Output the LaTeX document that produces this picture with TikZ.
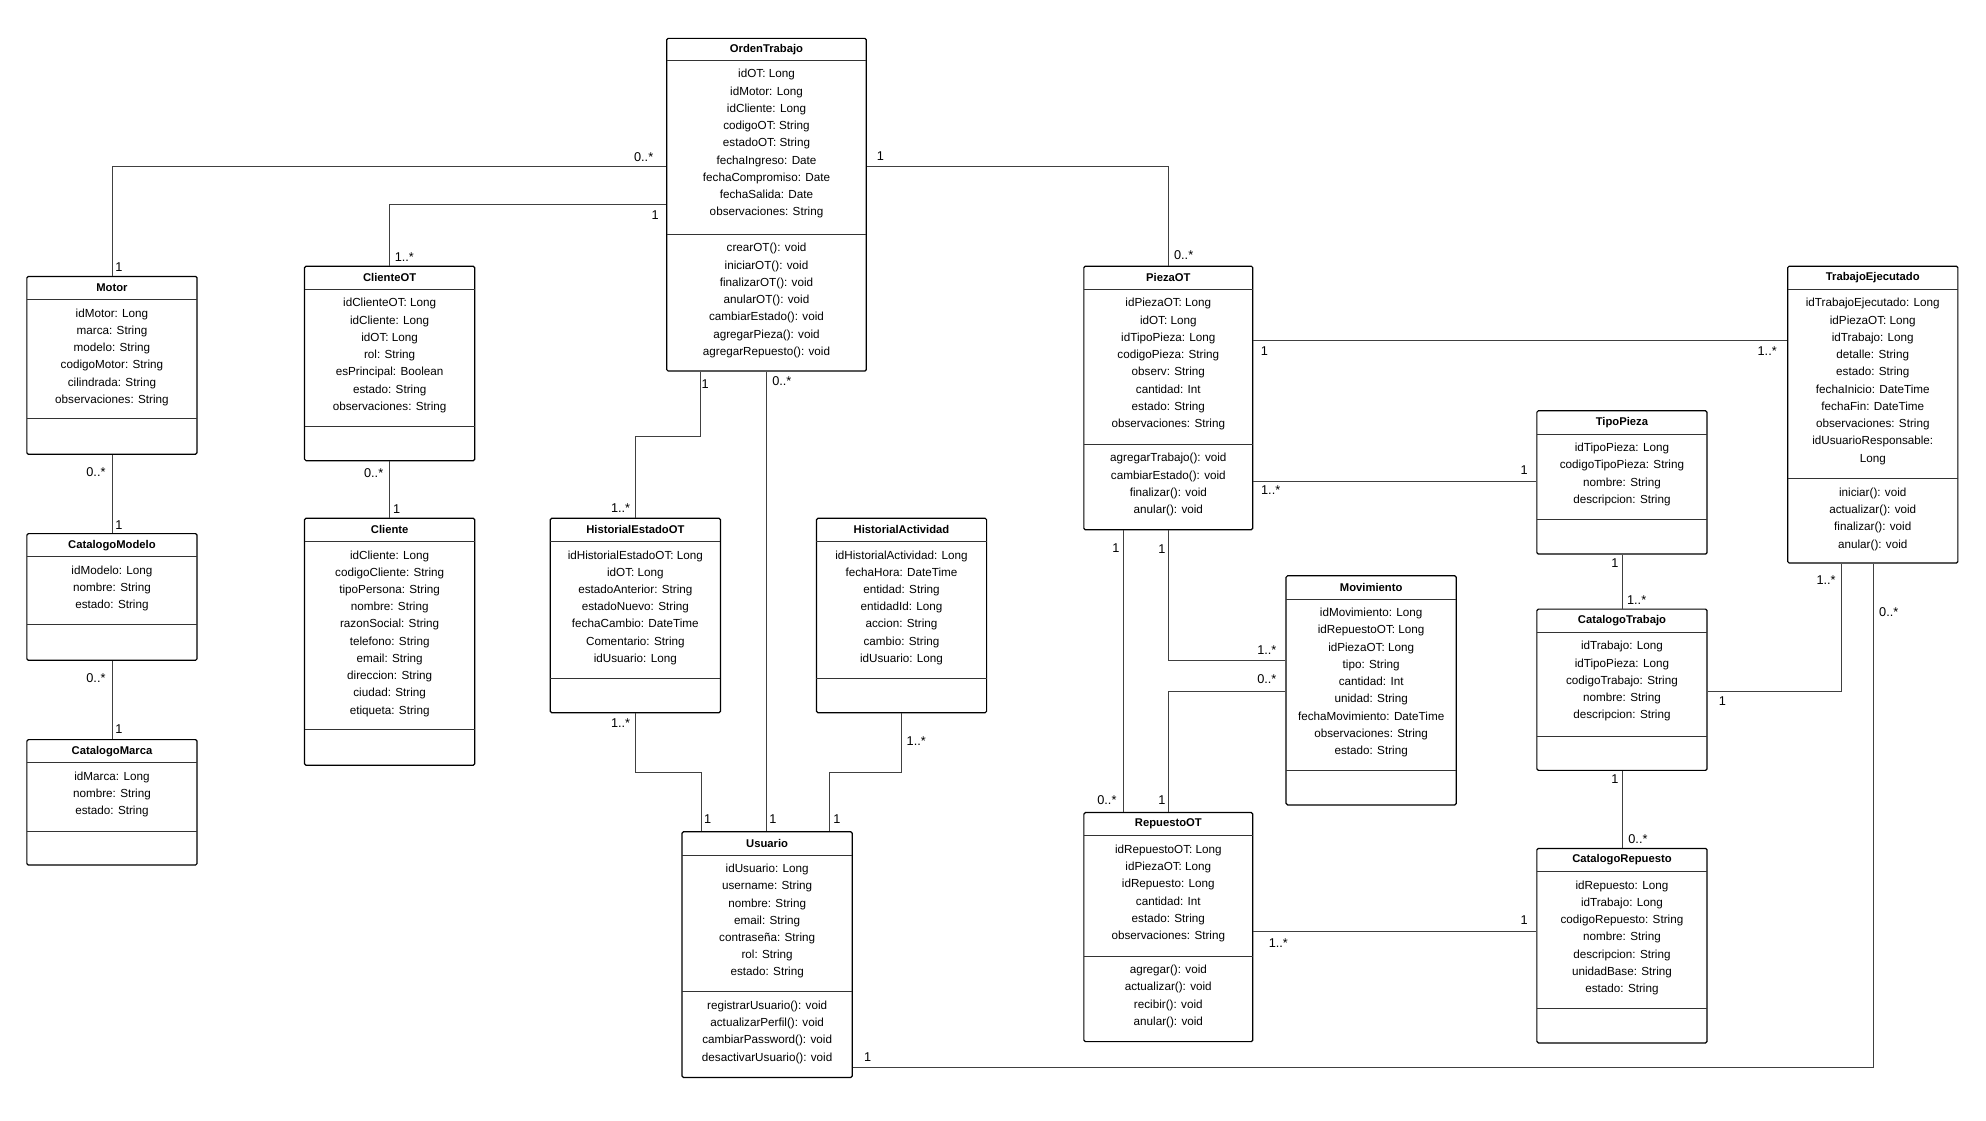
\documentclass[tikz,border=0pt]{standalone}
\usepackage{fontspec}
\setmainfont{Liberation Sans}
\usetikzlibrary{positioning, fit}
\tikzset{
    % UML class frame and its texts
    classBox/.style={draw=black, thick, rounded corners=1pt, inner sep=0pt},
    sepLine/.style={draw=black!80, thin},
    classTitle/.style={font=\bfseries\fontsize{7.5}{9}\selectfont},
    classText/.style={font=\fontsize{7.8}{11.5}\selectfont, align=center, inner sep=0pt, anchor=north},
    % associations and multiplicities
    assoc/.style={draw=black!75, semithick},
    mult/.style={font=\fontsize{8.5}{10}\selectfont, inner sep=0pt}
}
% \umlclass{name}{x1}{y1}{x2}{y2}{title sep}{attr sep}{title}{attributes}{methods}
\newcommand{\umlclass}[9]{%
    \node[classBox, fit={(#2,#3)(#4,#5)}] (#1) {};
    \draw[sepLine] (#2,#6) -- (#4,#6);
    \draw[sepLine] (#2,#7) -- (#4,#7);
    \node[classTitle] at ({(#2+#4)/2},{(#3+#6)/2}) {#8};
    \node[classText] at ({(#2+#4)/2},{#6+7}) {#9};
    \umlmethods{#2}{#4}{#7}}
\newcommand{\umlmethods}[4]{\node[classText] at ({(#1+#2)/2},{#3+7}) {#4};}
\begin{document}
\begin{tikzpicture}[x=0.03cm, y=-0.03cm]
    \useasboundingbox (0,0) rectangle (1552,876);

    % --- Classes ---
    \umlclass{ot}{521}{30}{677}{290}{47}{183}{OrdenTrabajo}{idOT: Long\\idMotor: Long\\idCliente: Long\\codigoOT: String\\estadoOT: String\\fechaIngreso: Date\\fechaCompromiso: Date\\fechaSalida: Date\\observaciones: String}{crearOT(): void\\iniciarOT(): void\\finalizarOT(): void\\anularOT(): void\\cambiarEstado(): void\\agregarPieza(): void\\agregarRepuesto(): void}
    \umlclass{motor}{21}{216}{154}{355}{234}{327}{Motor}{idMotor: Long\\marca: String\\modelo: String\\codigoMotor: String\\cilindrada: String\\observaciones: String}{}
    \umlclass{modelo}{21}{417}{154}{516}{435}{488}{CatalogoModelo}{idModelo: Long\\nombre: String\\estado: String}{}
    \umlclass{marca}{21}{578}{154}{676}{596}{650}{CatalogoMarca}{idMarca: Long\\nombre: String\\estado: String}{}
    \umlclass{clienteot}{238}{208}{371}{360}{226}{333}{ClienteOT}{idClienteOT: Long\\idCliente: Long\\idOT: Long\\rol: String\\esPrincipal: Boolean\\estado: String\\observaciones: String}{}
    \umlclass{cliente}{238}{405}{371}{598}{423}{570}{Cliente}{idCliente: Long\\codigoCliente: String\\tipoPersona: String\\nombre: String\\razonSocial: String\\telefono: String\\email: String\\direccion: String\\ciudad: String\\etiqueta: String}{}
    \umlclass{histest}{430}{405}{563}{557}{423}{530}{HistorialEstadoOT}{idHistorialEstadoOT: Long\\idOT: Long\\estadoAnterior: String\\estadoNuevo: String\\fechaCambio: DateTime\\Comentario: String\\idUsuario: Long}{}
    \umlclass{histact}{638}{405}{771}{557}{423}{530}{HistorialActividad}{idHistorialActividad: Long\\fechaHora: DateTime\\entidad: String\\entidadId: Long\\accion: String\\cambio: String\\idUsuario: Long}{}
    \umlclass{usuario}{533}{650}{666}{842}{668}{775}{Usuario}{idUsuario: Long\\username: String\\nombre: String\\email: String\\contraseña: String\\rol: String\\estado: String}{registrarUsuario(): void\\actualizarPerfil(): void\\cambiarPassword(): void\\desactivarUsuario(): void}
    \umlclass{pieza}{847}{208}{979}{414}{226}{347}{PiezaOT}{idPiezaOT: Long\\idOT: Long\\idTipoPieza: Long\\codigoPieza: String\\observ: String\\cantidad: Int\\estado: String\\observaciones: String}{agregarTrabajo(): void\\cambiarEstado(): void\\finalizar(): void\\anular(): void}
    \umlclass{trabajo}{1397}{208}{1530}{440}{226}{374}{TrabajoEjecutado}{idTrabajoEjecutado: Long\\idPiezaOT: Long\\idTrabajo: Long\\detalle: String\\estado: String\\fechaInicio: DateTime\\fechaFin: DateTime\\observaciones: String\\idUsuarioResponsable:\\Long}{iniciar(): void\\actualizar(): void\\finalizar(): void\\anular(): void}
    \umlclass{tipo}{1201}{321}{1334}{433}{339}{406}{TipoPieza}{idTipoPieza: Long\\codigoTipoPieza: String\\nombre: String\\descripcion: String}{}
    \umlclass{cattrab}{1201}{476}{1334}{602}{494}{575}{CatalogoTrabajo}{idTrabajo: Long\\idTipoPieza: Long\\codigoTrabajo: String\\nombre: String\\descripcion: String}{}
    \umlclass{mov}{1005}{450}{1138}{629}{468}{602}{Movimiento}{idMovimiento: Long\\idRepuestoOT: Long\\idPiezaOT: Long\\tipo: String\\cantidad: Int\\unidad: String\\fechaMovimiento: DateTime\\observaciones: String\\estado: String}{}
    \umlclass{repuesto}{847}{635}{979}{814}{653}{747}{RepuestoOT}{idRepuestoOT: Long\\idPiezaOT: Long\\idRepuesto: Long\\cantidad: Int\\estado: String\\observaciones: String}{agregar(): void\\actualizar(): void\\recibir(): void\\anular(): void}
    \umlclass{catrep}{1201}{663}{1334}{815}{681}{788}{CatalogoRepuesto}{idRepuesto: Long\\idTrabajo: Long\\codigoRepuesto: String\\nombre: String\\descripcion: String\\unidadBase: String\\estado: String}{}

    % --- Associations ---
    \draw[assoc] (ot.west |- 0,130) -| (motor.north);
    \draw[assoc] (ot.west |- 0,160) -| (clienteot.north);
    \draw[assoc] (ot.east |- 0,130) -| (pieza.north);
    \draw[assoc] (ot.south -| 547,0) -- (547,341) -| (histest.north);
    \draw[assoc] (ot.south -| 599,0) -- (usuario.north -| 599,0);
    \draw[assoc] (motor.south) -- (modelo.north);
    \draw[assoc] (modelo.south) -- (marca.north);
    \draw[assoc] (clienteot.south) -- (cliente.north);
    \draw[assoc] (histest.south) |- (548,604) -- (usuario.north -| 548,0);
    \draw[assoc] (histact.south) |- (648,604) -- (usuario.north -| 648,0);
    \draw[assoc] (pieza.east |- 0,266) -- (trabajo.west |- 0,266);
    \draw[assoc] (pieza.east |- 0,376) -- (tipo.west |- 0,376);
    \draw[assoc] (pieza.south -| 913,0) |- (mov.west |- 0,516);
    \draw[assoc] (pieza.south -| 878,0) -- (repuesto.north -| 878,0);
    \draw[assoc] (mov.west |- 0,540) -| (repuesto.north -| 913,0);
    \draw[assoc] (tipo.south) -- (cattrab.north);
    \draw[assoc] (cattrab.east |- 0,540) -| (trabajo.south -| 1439,0);
    \draw[assoc] (cattrab.south) -- (catrep.north);
    \draw[assoc] (repuesto.east |- 0,728) -- (catrep.west |- 0,728);
    \draw[assoc] (usuario.east |- 0,834) -| (trabajo.south -| 1464,0);

    % --- Multiplicities ---
    \node[mult] at (503,123) {0..*};  \node[mult] at (93,209) {1};
    \node[mult] at (512,168) {1};     \node[mult] at (316,201) {1..*};
    \node[mult] at (688,122) {1};     \node[mult] at (925,199) {0..*};
    \node[mult] at (551,300) {1};     \node[mult] at (485,397) {1..*};
    \node[mult] at (611,298) {0..*};  \node[mult] at (604,640) {1};
    \node[mult] at (75,369) {0..*};   \node[mult] at (93,410) {1};
    \node[mult] at (75,530) {0..*};   \node[mult] at (93,570) {1};
    \node[mult] at (292,370) {0..*};  \node[mult] at (310,398) {1};
    \node[mult] at (485,565) {1..*};  \node[mult] at (553,640) {1};
    \node[mult] at (716,579) {1..*};  \node[mult] at (654,640) {1};
    \node[mult] at (988,274) {1};     \node[mult] at (1381,274) {1..*};
    \node[mult] at (993,383) {1..*};  \node[mult] at (1191,367) {1};
    \node[mult] at (908,429) {1};     \node[mult] at (990,508) {1..*};
    \node[mult] at (872,428) {1};     \node[mult] at (865,625) {0..*};
    \node[mult] at (990,531) {0..*};  \node[mult] at (908,625) {1};
    \node[mult] at (1262,440) {1};    \node[mult] at (1279,469) {1..*};
    \node[mult] at (1346,548) {1};    \node[mult] at (1427,453) {1..*};
    \node[mult] at (1262,609) {1};    \node[mult] at (1280,656) {0..*};
    \node[mult] at (999,737) {1..*};  \node[mult] at (1191,719) {1};
    \node[mult] at (678,826) {1};     \node[mult] at (1476,478) {0..*};
\end{tikzpicture}
\end{document}
